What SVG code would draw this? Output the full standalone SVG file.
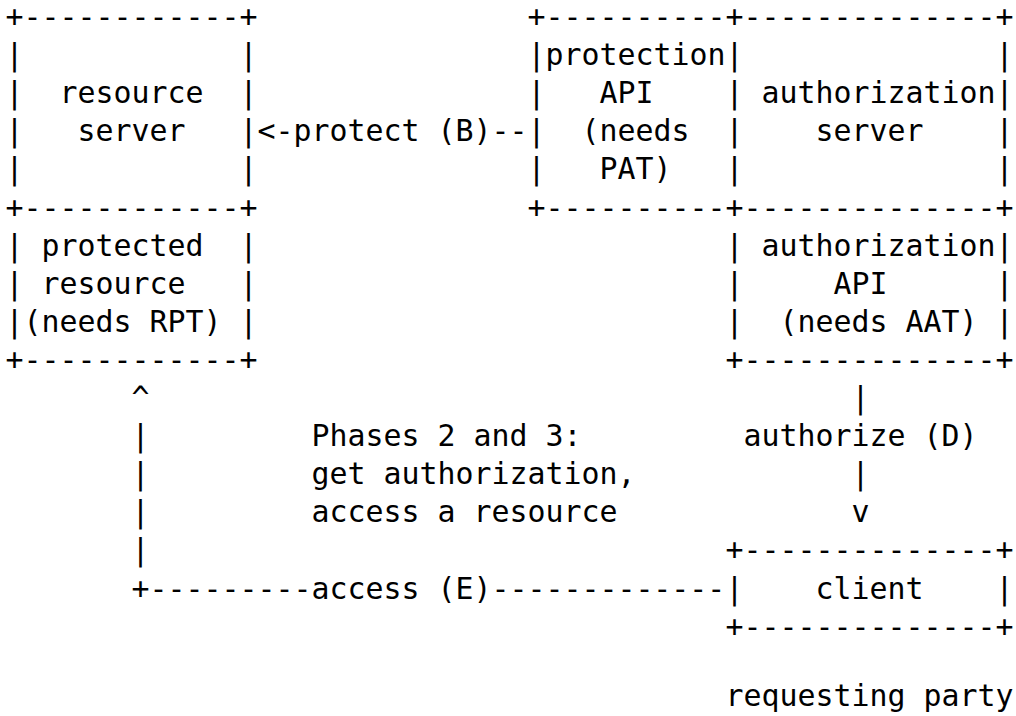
<svg xmlns="http://www.w3.org/2000/svg" width="1016" height="716" viewBox="0 0 1016 716">
  <style>
    text { font-family: "DejaVu Sans Mono", "Liberation Mono", monospace; font-size: 29.9px; fill: #000; white-space: pre; }
  </style>
  <!-- character grid: column c at x = 5.5 + 18c, row r baseline at y = 27 + 38.1r -->
  <rect x="0" y="0" width="1016" height="716" fill="#fff"/>

  <g id="resource-server" xml:space="preserve">
    <text x="5.5" y="27">+------------+</text>
    <text x="5.5" y="65.1">|            |</text>
    <text x="5.5" y="103.2">|  resource  |</text>
    <text x="5.5" y="141.3">|   server   |</text>
    <text x="5.5" y="179.4">|            |</text>
    <text x="5.5" y="217.5">+------------+</text>
  </g>

  <g id="protected-resource" xml:space="preserve">
    <text x="5.5" y="255.6">| protected  |</text>
    <text x="5.5" y="293.7">| resource   |</text>
    <text x="5.5" y="331.8">|(needs RPT) |</text>
    <text x="5.5" y="369.9">+------------+</text>
  </g>

  <g id="protection-api" xml:space="preserve">
    <text x="527.5" y="27">+----------+</text>
    <text x="527.5" y="65.1">|protection|</text>
    <text x="527.5" y="103.2">|   API    |</text>
    <text x="527.5" y="141.3">|  (needs  |</text>
    <text x="527.5" y="179.4">|   PAT)   |</text>
    <text x="527.5" y="217.5">+----------+</text>
  </g>

  <g id="authorization-server" xml:space="preserve">
    <text x="743.5" y="27">--------------+</text>
    <text x="743.5" y="65.1">              |</text>
    <text x="743.5" y="103.2"> authorization|</text>
    <text x="743.5" y="141.3">    server    |</text>
    <text x="743.5" y="179.4">              |</text>
    <text x="743.5" y="217.5">--------------+</text>
  </g>

  <g id="authorization-api" xml:space="preserve">
    <text x="725.5" y="255.6">| authorization|</text>
    <text x="725.5" y="293.7">|     API      |</text>
    <text x="725.5" y="331.8">|  (needs AAT) |</text>
    <text x="725.5" y="369.9">+--------------+</text>
  </g>

  <g id="client" xml:space="preserve">
    <text x="725.5" y="560.4">+--------------+</text>
    <text x="725.5" y="598.5">|    client    |</text>
    <text x="725.5" y="636.6">+--------------+</text>
  </g>

  <g id="requesting-party">
    <text x="725.5" y="706">requesting party</text>
  </g>

  <g id="phase-note">
    <text x="311.5" y="446.1">Phases 2 and 3:</text>
    <text x="311.5" y="484.2">get authorization,</text>
    <text x="311.5" y="522.3">access a resource</text>
  </g>

  <g id="connectors" xml:space="preserve">
    <!-- protect (B): protection API to resource server -->
    <text x="257.5" y="141.3">&lt;-protect (B)--</text>
    <!-- access (E): client to protected resource -->
    <text x="131.5" y="408">^</text>
    <text x="131.5" y="446.1">|</text>
    <text x="131.5" y="484.2">|</text>
    <text x="131.5" y="522.3">|</text>
    <text x="131.5" y="560.4">|</text>
    <text x="131.5" y="598.5">+---------access (E)-------------</text>
    <!-- authorize (D): authorization API to client -->
    <text x="851.5" y="408">|</text>
    <text x="743.5" y="446.1">authorize (D)</text>
    <text x="851.5" y="484.2">|</text>
    <text x="851.5" y="522.3">v</text>
  </g>
</svg>
